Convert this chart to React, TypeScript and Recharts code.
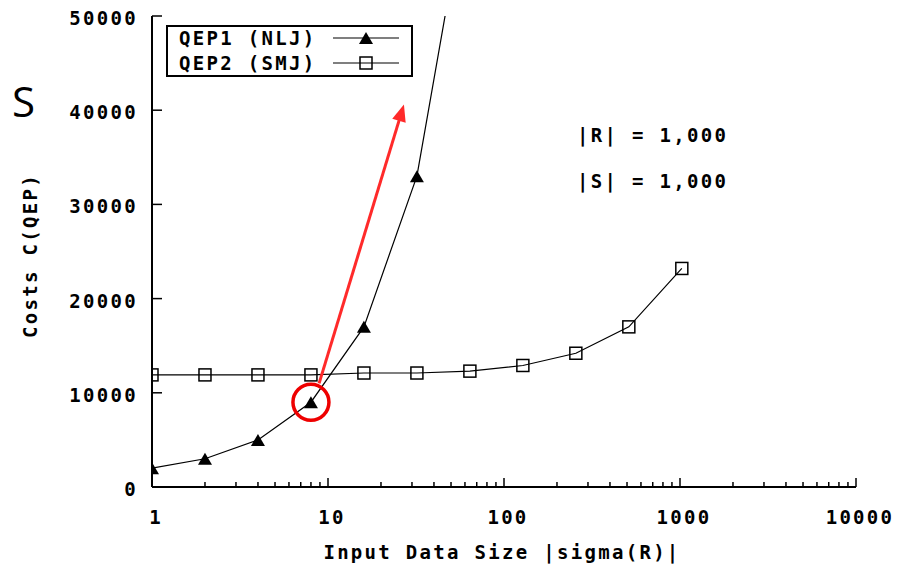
import React from 'react';
import { LineChart, Line, XAxis, YAxis, ReferenceDot, ReferenceLine, Legend } from 'recharts';

const sizes = [1, 2, 4, 8, 16, 32, 64, 128, 256, 512, 1024];
const nljCosts: (number | null)[] = [2000, 3000, 5000, 9000, 17000, 33000, 65000, null, null, null, null];
const smjCosts = [11900, 11900, 11900, 11900, 12100, 12100, 12300, 12900, 14200, 17000, 23200];
const yTicks = [0, 10000, 20000, 30000, 40000, 50000];
const xMajorTicks = [1, 10, 100, 1000, 10000];
const xMinorMultipliers = [2, 3, 4, 5, 6, 7, 8, 9];
const seriesNames = ['QEP1 (NLJ)', 'QEP2 (SMJ)'];
const annotationTexts = ['|R| = 1,000', '|S| = 1,000'];
const annotationPos = [{ x: 260, y: 37400 }, { x: 260, y: 32500 }];
const arrowSegment = [{ x: 8.9, y: 11000 }, { x: 27, y: 40600 }];
const highlight = { x: 8, y: 9000 };
const xLabel = 'Input Data Size |sigma(R)|';
const yLabel = 'Costs C(QEP)';
const sideLetter = 'S';

const data = sizes.map((s, i) => ({ size: s, nlj: nljCosts[i], smj: smjCosts[i] }));
const xTicks: number[] = [];
xMajorTicks.forEach((m, i) => {
  xTicks.push(m);
  if (i < xMajorTicks.length - 1) xMinorMultipliers.forEach((k) => xTicks.push(m * k));
});
const isMajor = (v: number) => xMajorTicks.includes(v);

const FONT = '"DejaVu Sans Mono", monospace';
const txt = { fontFamily: FONT, fontWeight: 700, fontSize: 19, letterSpacing: 2.3, fill: '#000' } as any;
const RED = '#ff2a2a';

const BottomTick = (p: any) => {
  const { x, y, payload } = p;
  const v = payload.value;
  const M = isMajor(v);
  return (
    <g>
      <line x1={x} x2={x} y1={y} y2={y - (M ? 9 : 5)} stroke="#000" strokeWidth={1.5} />
      {M && (
        <text x={x + 4} y={y + 30} textAnchor="middle" dominantBaseline="central" style={txt}>
          {String(v)}
        </text>
      )}
    </g>
  );
};
const TopTick = (p: any) => {
  const { x, y, payload } = p;
  const M = isMajor(payload.value);
  return <line x1={x} x2={x} y1={y} y2={y + (M ? 9 : 5)} stroke="#000" strokeWidth={1.5} />;
};
const LeftTick = (p: any) => {
  const { x, y, payload } = p;
  return (
    <g>
      <line x1={x} x2={x + 10} y1={y} y2={y} stroke="#000" strokeWidth={1.5} />
      <text x={x - 14} y={y + 2} textAnchor="end" dominantBaseline="central" style={txt}>
        {String(payload.value)}
      </text>
    </g>
  );
};
const RightTick = (p: any) => {
  const { x, y } = p;
  return <line x1={x} x2={x - 10} y1={y} y2={y} stroke="#000" strokeWidth={1.5} />;
};

const Triangle = ({ cx, cy }: { cx: number; cy: number }) => (
  <polygon points={`${cx - 7},${cy + 6} ${cx + 7},${cy + 6} ${cx},${cy - 6}`} fill="#000" />
);
const Square = ({ cx, cy }: { cx: number; cy: number }) => (
  <rect x={cx - 6} y={cy - 6} width={12} height={12} fill="none" stroke="#000" strokeWidth={1.5} />
);

const triDot = (p: any) =>
  p.cy == null || p.cx == null ? <g key={p.index} /> : <g key={p.index}><Triangle cx={p.cx} cy={p.cy} /></g>;
const sqDot = (p: any) =>
  p.cy == null || p.cx == null ? <g key={p.index} /> : <g key={p.index}><Square cx={p.cx} cy={p.cy} /></g>;

const LegendBox = () => (
  <svg width={247} height={52} style={{ display: 'block' }}>
    <rect x={1} y={1} width={245} height={50} fill="#fff" stroke="#000" strokeWidth={2} />
    {seriesNames.map((n, i) => {
      const cy = 13 + i * 25;
      return (
        <g key={n}>
          <text x={13} y={cy} dominantBaseline="central" style={txt}>{n}</text>
          <line x1={167} x2={233} y1={cy} y2={cy} stroke="#000" strokeWidth={1.2} />
          {i === 0 ? <Triangle cx={200} cy={cy} /> : <Square cx={200} cy={cy} />}
        </g>
      );
    })}
  </svg>
);

const ArrowShape = (p: any) => {
  const { x1, y1, x2, y2 } = p;
  if ([x1, y1, x2, y2].some((v) => v == null || isNaN(v))) return <g />;
  const dx = x2 - x1, dy = y2 - y1;
  const len = Math.sqrt(dx * dx + dy * dy);
  const ux = dx / len, uy = dy / len;
  const hl = 17, hw = 7;
  const bx = x2 - ux * hl, by = y2 - uy * hl;
  return (
    <g>
      <line x1={x1} y1={y1} x2={bx + ux * 2} y2={by + uy * 2} stroke={RED} strokeWidth={3} />
      <polygon
        points={`${x2},${y2} ${bx - uy * hw},${by + ux * hw} ${bx + uy * hw},${by - ux * hw}`}
        fill={RED}
      />
    </g>
  );
};

const AnnotLabel = (text: string) => (p: any) => {
  const vb = p.viewBox || {};
  const x = vb.x + (vb.width || 0) / 2;
  const y = vb.y + (vb.height || 0) / 2;
  return (
    <text x={x} y={y} textAnchor="start" dominantBaseline="central" style={txt}>
      {text}
    </text>
  );
};

export default function App() {
  return (
    <div style={{ position: 'absolute', left: 0, top: 0, width: 900, height: 565, background: '#fff' }}>
      <LineChart width={900} height={565} data={data} margin={{ top: 16, right: 44, bottom: 0, left: 0 }}>
        <XAxis
          xAxisId="b"
          dataKey="size"
          type="number"
          scale="log"
          domain={[1, 10000]}
          ticks={xTicks}
          interval={0}
          allowDataOverflow
          height={78}
          tickSize={0}
          tickMargin={0}
          tickLine={false}
          axisLine={{ stroke: '#000', strokeWidth: 2 }}
          tick={BottomTick}
          label={(p: any) => {
            const vb = p.viewBox;
            return (
              <text x={vb.x + vb.width / 2 - 2} y={vb.y + 65} textAnchor="middle" dominantBaseline="central" style={txt}>
                {xLabel}
              </text>
            );
          }}
        />
        <XAxis
          xAxisId="t"
          dataKey="size"
          orientation="top"
          type="number"
          scale="log"
          domain={[1, 10000]}
          ticks={xTicks}
          interval={0}
          allowDataOverflow
          height={0}
          tickSize={0}
          tickMargin={0}
          tickLine={false}
          axisLine={{ stroke: '#000', strokeWidth: 2 }}
          tick={TopTick}
        />
        <YAxis
          yAxisId="l"
          type="number"
          domain={[0, 50000]}
          ticks={yTicks}
          interval={0}
          allowDataOverflow
          width={152}
          tickSize={0}
          tickMargin={0}
          tickLine={false}
          axisLine={{ stroke: '#000', strokeWidth: 2 }}
          tick={LeftTick}
          label={(p: any) => {
            const vb = p.viewBox;
            const cx = 30, cy = vb.y + vb.height / 2 + 4;
            return (
              <text x={cx} y={cy} textAnchor="middle" dominantBaseline="central" transform={`rotate(-90 ${cx} ${cy})`} style={txt}>
                {yLabel}
              </text>
            );
          }}
        />
        <YAxis
          yAxisId="r"
          orientation="right"
          type="number"
          domain={[0, 50000]}
          ticks={yTicks}
          interval={0}
          allowDataOverflow
          width={0}
          tickSize={0}
          tickMargin={0}
          tickLine={false}
          axisLine={{ stroke: '#000', strokeWidth: 2 }}
          tick={RightTick}
        />
        <Legend
          layout="horizontal"
          verticalAlign="middle"
          align="center"
          wrapperStyle={{ position: 'absolute', left: 166, top: 25, width: 247, height: 52, margin: 0 }}
          content={() => <LegendBox />}
        />
        <Line
          xAxisId="b"
          yAxisId="l"
          dataKey="smj"
          name={seriesNames[1]}
          stroke="#000"
          strokeWidth={1.2}
          dot={sqDot}
          activeDot={false}
          isAnimationActive={false}
        />
        <Line
          xAxisId="b"
          yAxisId="l"
          dataKey="nlj"
          name={seriesNames[0]}
          stroke="#000"
          strokeWidth={1.2}
          dot={triDot}
          activeDot={false}
          isAnimationActive={false}
        />
        <ReferenceDot
          xAxisId="b"
          yAxisId="l"
          x={highlight.x}
          y={highlight.y}
          r={18}
          fill="none"
          stroke="#ee0000"
          strokeWidth={3.5}
        />
        <ReferenceLine
          xAxisId="b"
          yAxisId="l"
          segment={arrowSegment}
          stroke={RED}
          strokeWidth={3}
          shape={ArrowShape}
        />
        {annotationTexts.map((t, i) => (
          <ReferenceDot
            key={t}
            xAxisId="b"
            yAxisId="l"
            x={annotationPos[i].x}
            y={annotationPos[i].y}
            r={1}
            fill="none"
            stroke="none"
            label={AnnotLabel(t)}
          />
        ))}
      </LineChart>
      <div
        style={{
          position: 'absolute',
          left: 12,
          top: 76,
          fontFamily: '"Open Sans", sans-serif',
          fontSize: 42,
          lineHeight: '50px',
          color: '#000',
        }}
      >
        {sideLetter}
      </div>
    </div>
  );
}
